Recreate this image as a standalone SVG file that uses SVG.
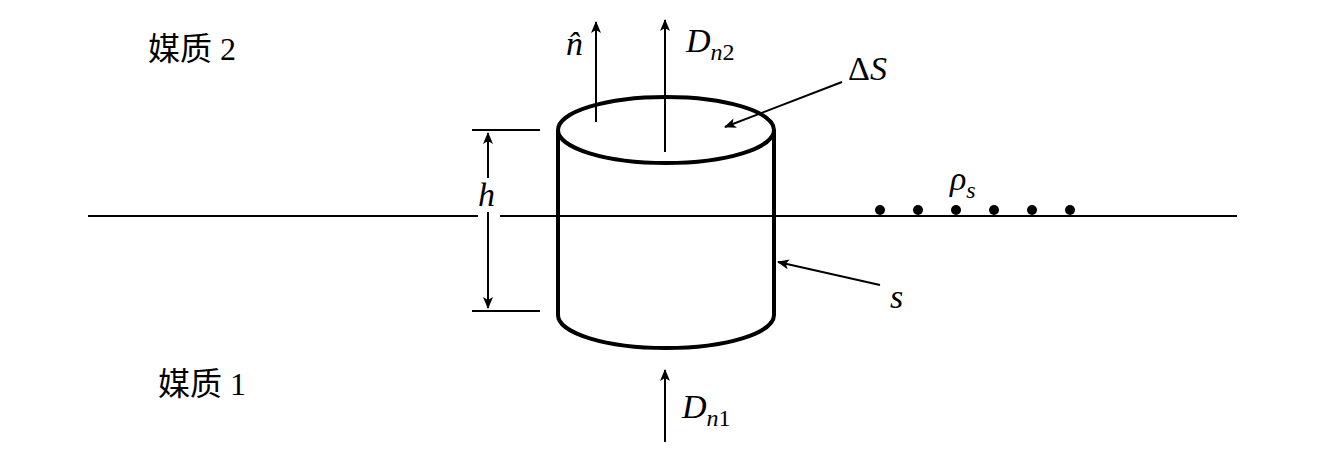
<svg xmlns="http://www.w3.org/2000/svg" width="1322" height="457" viewBox="0 0 1322 457">
<defs><marker id="a" markerWidth="12" markerHeight="10" refX="11" refY="5" orient="auto" markerUnits="userSpaceOnUse"><path d="M0,0 L12,5 L0,10 L3,5 Z" fill="#000"/></marker></defs>
<style>.l{stroke:#000;stroke-width:2;fill:none}.c{stroke:#000;stroke-width:4;fill:none}.t{font-family:"Liberation Serif",serif;font-style:italic;font-size:34px}.u{font-style:normal}.z{font-family:"Liberation Serif","Noto Sans CJK SC",serif;font-size:32px}</style>
<rect width="1322" height="457" fill="#fff"/>
<line class="l" x1="88" y1="216" x2="478" y2="216"/>
<line class="l" x1="500" y1="216" x2="1237" y2="216"/>
<g id="cylinder">
<ellipse class="c" cx="666" cy="130" rx="108" ry="33"/>
<line class="c" x1="558" y1="130" x2="558" y2="315"/>
<line class="c" x1="774" y1="130" x2="774" y2="315"/>
<path class="c" d="M558,315 A108,33 0 0 0 774,315"/>
</g>
<g id="connectors">
<line class="l" x1="472" y1="130" x2="540" y2="130"/>
<line class="l" x1="472" y1="311" x2="540" y2="311"/>
<line class="l" x1="488" y1="178" x2="488" y2="133" marker-end="url(#a)"/>
<line class="l" x1="488" y1="212" x2="488" y2="308" marker-end="url(#a)"/>
<line class="l" x1="596" y1="122" x2="596" y2="22" marker-end="url(#a)"/>
<line class="l" x1="665" y1="152" x2="665" y2="20" marker-end="url(#a)"/>
<line class="l" x1="842" y1="82" x2="725" y2="127" marker-end="url(#a)"/>
<line class="l" x1="880" y1="285" x2="778" y2="262" marker-end="url(#a)"/>
<line class="l" x1="665" y1="442" x2="665" y2="370" marker-end="url(#a)"/>
</g>
<g id="dots" fill="#000">
<circle cx="880" cy="210" r="5"/><circle cx="918" cy="210" r="5"/><circle cx="956" cy="210" r="5"/><circle cx="994" cy="210" r="5"/><circle cx="1032" cy="210" r="5"/><circle cx="1070" cy="210" r="5"/>
</g>
<text class="z" x="148" y="60">媒质 2</text>
<text class="z" x="158" y="395">媒质 1</text>
<text class="t" x="478" y="206">h</text>
<text class="t" x="566" y="55">n̂</text>
<text class="t" x="686" y="52">D<tspan font-size="24" dy="8">n</tspan><tspan class="u" font-size="24">2</tspan></text>
<text class="t" x="848" y="80"><tspan class="u">Δ</tspan>S</text>
<text class="t" x="890" y="308">s</text>
<text class="t" x="950" y="190">ρ<tspan font-size="24" dy="8">s</tspan></text>
<text class="t" x="682" y="418">D<tspan font-size="24" dy="8">n</tspan><tspan class="u" font-size="24">1</tspan></text>
</svg>
